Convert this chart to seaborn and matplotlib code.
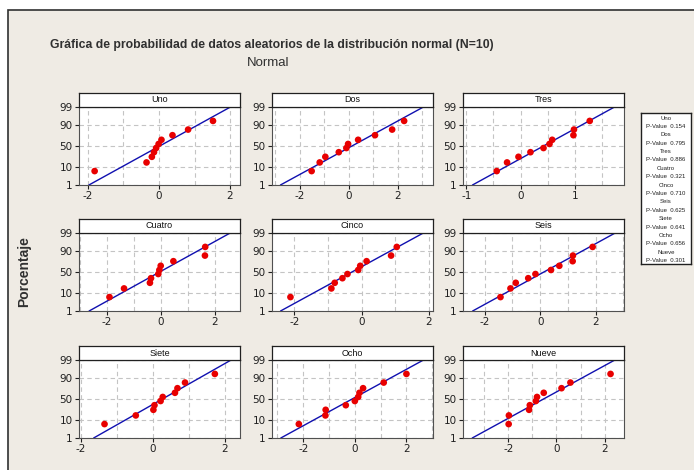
import numpy as np
import pandas as pd
import matplotlib
matplotlib.use("Agg")
import matplotlib.pyplot as plt
import seaborn as sns
from matplotlib import font_manager
from matplotlib.patches import Rectangle
from statistics import NormalDist

# Data (sorted values of each sample, N=10)
names = ["Uno", "Dos", "Tres", "Cuatro", "Cinco", "Seis", "Siete", "Ocho", "Nueve"]
uno = [-1.81, -0.35, -0.20, -0.14, -0.08, -0.01, 0.07, 0.38, 0.82, 1.52]
dos = [-1.52, -1.19, -0.96, -0.41, -0.10, -0.03, 0.38, 1.07, 1.77, 2.26]
tres = [-0.44, -0.25, -0.04, 0.18, 0.42, 0.53, 0.58, 0.97, 0.98, 1.27]
cuatro = [-1.91, -1.37, -0.41, -0.37, -0.10, -0.06, -0.01, 0.46, 1.63, 1.64]
cinco = [-2.12, -0.90, -0.80, -0.57, -0.42, -0.10, -0.04, 0.15, 0.88, 1.05]
seis = [-1.43, -1.07, -0.88, -0.43, -0.17, 0.39, 0.69, 1.17, 1.18, 1.89]
siete = [-1.35, -0.48, 0.01, 0.04, 0.21, 0.27, 0.61, 0.68, 0.89, 1.72]
ocho = [-2.17, -1.14, -1.13, -0.35, 0.00, 0.13, 0.18, 0.32, 1.12, 2.00]
nueve = [-1.99, -1.98, -1.14, -1.11, -0.86, -0.81, -0.53, 0.21, 0.58, 2.25]
samples = [uno, dos, tres, cuatro, cinco, seis, siete, ocho, nueve]
p_values = [0.154, 0.795, 0.886, 0.321, 0.710, 0.625, 0.641, 0.656, 0.301]
pct_ticks = [1, 10, 50, 90, 99]

# axis ranges per panel
x_limits = [(-2.25, 2.28), (-3.14, 3.44), (-1.06, 1.90),
            (-3.04, 2.93), (-2.67, 2.13), (-2.78, 3.02),
            (-2.06, 2.42), (-3.21, 3.03), (-3.89, 2.81)]
label_step = [2, 2, 1, 2, 2, 2, 2, 2, 2]
grid_step = [1, 1, 0.5, 1, 1, 1, 1, 1, 1]

nd = NormalDist()
z = lambda p: nd.inv_cdf(p / 100.0)

W, H = 694, 470
fig = plt.figure(figsize=(W / 100, H / 100), dpi=100)
fig.patch.set_facecolor("white")

sns.set_style("ticks")
avail = {f.name for f in font_manager.fontManager.ttflist}
narrow = "Liberation Sans Narrow" if "Liberation Sans Narrow" in avail else "Liberation Sans"
plt.rcParams["font.family"] = ["DejaVu Sans"]

# beige frame behind everything
fig.patches.append(Rectangle((8 / W, -0.01), 1, 1.01 - 10 / H, transform=fig.transFigure,
                             facecolor="#EFEBE4", edgecolor="#303030", lw=1.2, zorder=-10))

fig.text(272 / W, 1 - 45 / H,
         "Gráfica de probabilidad de datos aleatorios de la distribución normal (N=10)",
         ha="center", va="center", fontsize=8.8, fontweight="bold", color="#303030",
         family=narrow)
fig.text(268 / W, 1 - 63 / H, "Normal", ha="center", va="center", fontsize=9.5,
         color="#303030", family=narrow)
fig.text(24 / W, 1 - 272 / H, "Porcentaje", rotation=90, ha="center", va="center",
         fontsize=10, fontweight="bold", color="#303030", family=narrow)

col_left = [79, 272, 463]
row_top = [107, 233, 360]
ax_w, ax_h, strip_h = 161, 78, 14

ylo, yhi = z(1), z(99)
n = 10
for k, (name, vals) in enumerate(zip(names, samples)):
    r, c = divmod(k, 3)
    left = col_left[c] / W
    bottom = 1 - (row_top[r] + ax_h) / H
    ax = fig.add_axes([left, bottom, ax_w / W, ax_h / H])
    ax.set_facecolor("white")

    x = np.sort(np.array(vals))
    ranks = np.arange(1, n + 1)
    zpos = [z(100 * (i - 0.3) / (n + 0.4)) for i in ranks]
    df = pd.DataFrame({"valor": x, "z": zpos})

    mu, sd = x.mean(), x.std(ddof=1)
    line = pd.DataFrame({"valor": [mu + sd * ylo, mu + sd * yhi], "z": [ylo, yhi]})
    sns.lineplot(data=line, x="valor", y="z", ax=ax, color="#1010B0", lw=1.0,
                 sort=False, zorder=2)
    sns.scatterplot(data=df, x="valor", y="z", ax=ax, color="#E80000", s=23,
                    edgecolor="none", zorder=3)

    lo, hi = x_limits[k]
    ax.set_xlim(lo, hi)
    ax.set_ylim(ylo, yhi)
    st = label_step[k]
    ax.set_xticks(np.arange(np.ceil(lo / st) * st, hi + 1e-9, st))
    gs = grid_step[k]
    ax.set_xticks(np.arange(np.ceil(lo / gs) * gs, hi + 1e-9, gs), minor=True)
    ax.xaxis.set_major_formatter(matplotlib.ticker.FuncFormatter(lambda v, p: f"{v:g}"))
    ax.set_yticks([z(p) for p in pct_ticks])
    ax.set_yticklabels([str(p) for p in pct_ticks])
    ax.grid(True, which="both", axis="x", ls=(0, (4, 3)), color="#C4C4C4", lw=0.8)
    ax.grid(True, which="major", axis="y", ls=(0, (4, 3)), color="#C4C4C4", lw=0.8)
    ax.set_axisbelow(True)
    ax.tick_params(axis="both", which="major", direction="out", length=3, width=0.8,
                   labelsize=7.5, colors="#202020", pad=1.5)
    ax.tick_params(axis="x", which="minor", length=0)
    ax.set_xlabel("")
    ax.set_ylabel("")
    for s in ax.spines.values():
        s.set_color("#505050")
        s.set_linewidth(0.8)
    if ax.get_legend() is not None:
        ax.get_legend().remove()

    # strip header
    sax = fig.add_axes([left, 1 - row_top[r] / H, ax_w / W, strip_h / H])
    sax.set_facecolor("white")
    sax.set_xticks([])
    sax.set_yticks([])
    for s in sax.spines.values():
        s.set_color("#202020")
        s.set_linewidth(0.9)
    sax.text(0.5, 0.5, name, ha="center", va="center", fontsize=6.5, color="#101010",
             family=narrow, transform=sax.transAxes)

# legend with p-values
lax = fig.add_axes([641 / W, 1 - 264 / H, 50 / W, 151 / H])
lax.set_facecolor("white")
lax.set_xticks([])
lax.set_yticks([])
for s in lax.spines.values():
    s.set_color("#202020")
    s.set_linewidth(1.0)
step = 1.0 / 18
for i, (name, pv) in enumerate(zip(names, p_values)):
    y0 = 1 - (2 * i + 0.6) * step
    lax.text(0.5, y0, name, ha="center", va="center", fontsize=4.3, color="#202020",
             transform=lax.transAxes, family=narrow)
    lax.text(0.5, y0 - step, f"P-Value  {pv:.3f}", ha="center", va="center",
             fontsize=4.3, color="#202020", transform=lax.transAxes, family=narrow)

fig.savefig("out.png", dpi=100, facecolor=fig.get_facecolor())
